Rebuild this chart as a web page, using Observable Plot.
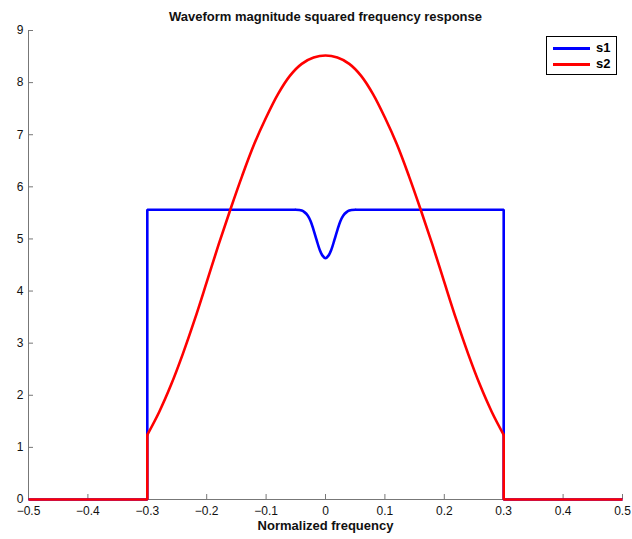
<!DOCTYPE html>
<html><head><meta charset="utf-8">
<script src="https://cdn.jsdelivr.net/npm/d3@7"></script>
<script src="https://cdn.jsdelivr.net/npm/@observablehq/plot@0.6"></script>
<style>
body{margin:0;background:#fff;font-family:"Liberation Sans",Arial,sans-serif;}
#wrap{position:relative;width:632px;height:539px;}
#legend{position:absolute;left:546px;top:36px;width:71px;height:39px;border:1px solid #000;background:#fff;box-sizing:border-box;font-weight:bold;font-size:13px;}
.row{position:absolute;left:6px;height:14px;width:62px;}
.sw{position:absolute;left:0;top:6px;width:37px;height:3px;}
.lab{position:absolute;left:43px;top:-1px;color:#000;}
</style></head><body><div id="wrap"></div>
<script>
const title = "Waveform magnitude squared frequency response";
const xLabel = "Normalized frequency";
const seriesNames = ["s1", "s2"];
const seriesColors = ["#0000ff", "#ff0000"];
const xTicks = [-0.5, -0.4, -0.3, -0.2, -0.1, 0, 0.1, 0.2, 0.3, 0.4, 0.5];
const yTicks = [0, 1, 2, 3, 4, 5, 6, 7, 8, 9];

// s1: flat band with notch at 0
const s1EdgeLeftF = [-0.5, -0.3, -0.3, -0.05];
const s1EdgeLeftV = [0, 0, 5.56, 5.56];
const s1EdgeRightF = [0.05, 0.3, 0.3, 0.5];
const s1EdgeRightV = [5.56, 5.56, 0, 0];
const s1DipF = [-0.05, -0.04, -0.035, -0.03, -0.025, -0.02, -0.015, -0.01, -0.005, 0, 0.005, 0.01, 0.015, 0.02, 0.025, 0.03, 0.035, 0.04, 0.05];
const s1DipV = [5.56, 5.545, 5.51, 5.45, 5.34, 5.17, 4.98, 4.80, 4.68, 4.63, 4.68, 4.80, 4.98, 5.17, 5.34, 5.45, 5.51, 5.545, 5.56];

// s2: smooth peaked band
const s2EdgeLeftF = [-0.5, -0.3, -0.3];
const s2EdgeLeftV = [0, 0, 1.24];
const s2EdgeRightF = [0.3, 0.3, 0.5];
const s2EdgeRightV = [1.24, 0, 0];
const s2CurveF = [-0.3, -0.28, -0.26, -0.24, -0.22, -0.2, -0.18, -0.16, -0.14, -0.12, -0.1, -0.08, -0.06, -0.04, -0.02, 0, 0.02, 0.04, 0.06, 0.08, 0.1, 0.12, 0.14, 0.16, 0.18, 0.2, 0.22, 0.24, 0.26, 0.28, 0.3];
const s2CurveV = [1.24, 1.68, 2.2, 2.8, 3.46, 4.17, 4.89, 5.57, 6.22, 6.82, 7.33, 7.78, 8.13, 8.36, 8.48, 8.52, 8.48, 8.36, 8.13, 7.78, 7.33, 6.82, 6.22, 5.57, 4.89, 4.17, 3.46, 2.8, 2.2, 1.68, 1.24];

const zip = (F, V, seg) => F.map((f, i) => ({f, v: V[i], seg}));
const s1Edges = [...zip(s1EdgeLeftF, s1EdgeLeftV, "L"), ...zip(s1EdgeRightF, s1EdgeRightV, "R")];
const s1Dip = zip(s1DipF, s1DipV, "D");
const s2Edges = [...zip(s2EdgeLeftF, s2EdgeLeftV, "L"), ...zip(s2EdgeRightF, s2EdgeRightV, "R")];
const s2Curve = zip(s2CurveF, s2CurveV, "C");

const fmt = d => d === 0 ? "0" : (d < 0 ? "\u2212" : "") + Math.abs(d).toFixed(1);
const lw = 2.6;
const axisColor = "#777";

const chart = Plot.plot({
  width: 632, height: 539,
  marginLeft: 28, marginRight: 10, marginTop: 30, marginBottom: 40,
  style: {fontFamily: "'Liberation Sans', Arial, sans-serif", fontSize: "12px", background: "#fff", color: "#111"},
  x: {domain: [-0.5, 0.5], ticks: xTicks, tickFormat: fmt, tickSize: 0, tickPadding: 7, label: null},
  y: {domain: [0, 9], ticks: yTicks, tickSize: 0, tickPadding: 5, label: null},
  marks: [
    Plot.ruleX([-0.5], {stroke: axisColor, strokeWidth: 1}),
    Plot.ruleY([0], {stroke: axisColor, strokeWidth: 1}),
    Plot.tickX(xTicks, {x: d => d, stroke: axisColor, insetTop: 464}),
    Plot.tickY(yTicks, {y: d => d, stroke: axisColor, insetRight: 589}),
    Plot.line(s1Edges, {x: "f", y: "v", z: "seg", stroke: seriesColors[0], strokeWidth: lw, strokeLinejoin: "miter", strokeLinecap: "butt"}),
    Plot.line(s1Dip, {x: "f", y: "v", stroke: seriesColors[0], strokeWidth: lw, curve: "catmull-rom"}),
    Plot.line(s2Edges, {x: "f", y: "v", z: "seg", stroke: seriesColors[1], strokeWidth: lw, strokeLinejoin: "miter", strokeLinecap: "butt"}),
    Plot.line(s2Curve, {x: "f", y: "v", stroke: seriesColors[1], strokeWidth: lw, curve: "catmull-rom"}),
    Plot.text([title], {frameAnchor: "top", dy: -19, fontWeight: "bold", fontSize: 13, fill: "#111"}),
    Plot.text([xLabel], {frameAnchor: "bottom", dy: 30, fontWeight: "bold", fontSize: 13, fill: "#111"})
  ]
});
const wrap = document.getElementById("wrap");
wrap.appendChild(chart);
const leg = document.createElement("div");
leg.id = "legend";
seriesNames.forEach((n, i) => {
  const r = document.createElement("div");
  r.className = "row";
  r.style.top = (4 + i * 16) + "px";
  r.innerHTML = `<div class="sw" style="background:${seriesColors[i]}"></div><span class="lab">${n}</span>`;
  leg.appendChild(r);
});
wrap.appendChild(leg);
</script>
</body></html>
